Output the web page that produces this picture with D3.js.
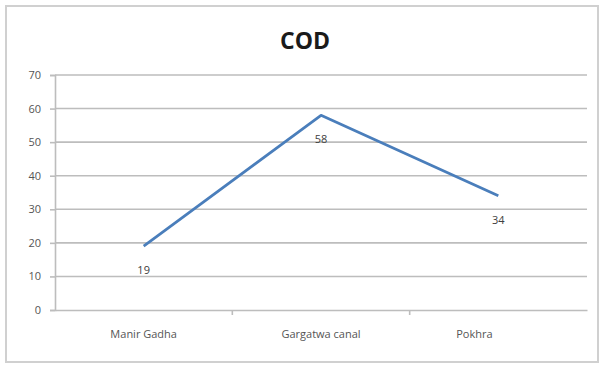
<!DOCTYPE html>
<html>
<head>
<meta charset="utf-8">
<script src="https://cdn.jsdelivr.net/npm/d3@7"></script>
<style>
  html, body { margin: 0; padding: 0; background: #fff; }
  svg { display: block; }
</style>
</head>
<body>
<svg id="chart" width="602" height="367"></svg>
<script>
// COD readings at each sampling site
const sites = ["Manir Gadha", "Gargatwa canal", "Pokhra"];
const codValues = [19, 58, 34];
const yTicks = [0, 10, 20, 30, 40, 50, 60, 70];
const chartTitle = "COD";

const svg = d3.select("#chart");
const W = 602, H = 367;
const plot = { left: 55, right: 587, top: 75, bottom: 310 };
const font = "Open Sans, 'Liberation Sans', Arial, sans-serif";

// outer chart frame
svg.append("rect")
  .attr("x", 6).attr("y", 6)
  .attr("width", W - 10).attr("height", H - 11)
  .attr("fill", "#fff")
  .attr("stroke", "#d0d0d0")
  .attr("stroke-width", 2);

const x = d3.scaleBand().domain(sites).range([plot.left, plot.right]);
const y = d3.scaleLinear().domain([0, 70]).range([plot.bottom, plot.top]);

// horizontal gridlines
svg.append("g").selectAll("line")
  .data(yTicks.filter(t => t > 0))
  .join("line")
  .attr("x1", plot.left).attr("x2", plot.right)
  .attr("y1", d => y(d)).attr("y2", d => y(d))
  .attr("stroke", "#bdbdbd").attr("stroke-width", 1.6);

// y axis
const yAxis = svg.append("g")
  .attr("transform", `translate(${plot.left},0)`)
  .call(d3.axisLeft(y).tickValues(yTicks).tickSize(5).tickPadding(9));
yAxis.select(".domain").attr("stroke", "#bdbdbd").attr("stroke-width", 1.6);
yAxis.selectAll(".tick line").attr("stroke", "#bdbdbd").attr("stroke-width", 1.6);
yAxis.selectAll("text")
  .attr("fill", "#555").style("font-family", font).style("font-size", "11px");

// x axis with category separators
const xAxis = svg.append("g")
  .attr("transform", `translate(0,${plot.bottom})`)
  .call(d3.axisBottom(x).tickSize(0).tickPadding(20));
xAxis.select(".domain").attr("stroke", "#bdbdbd").attr("stroke-width", 1.6);
xAxis.selectAll("text")
  .attr("fill", "#555").style("font-family", font).style("font-size", "11px")
  .attr("dx", (d, i) => i === sites.length - 1 ? -24 : 0);
svg.append("g").selectAll("line")
  .data(sites.slice(1))
  .join("line")
  .attr("x1", d => x(d)).attr("x2", d => x(d))
  .attr("y1", plot.bottom).attr("y2", plot.bottom + 5)
  .attr("stroke", "#bdbdbd").attr("stroke-width", 1.6);

// series line
const line = d3.line()
  .x((d, i) => x(sites[i]) + x.bandwidth() / 2)
  .y(d => y(d));
svg.append("path")
  .datum(codValues)
  .attr("d", line)
  .attr("fill", "none")
  .attr("stroke", "#4a7ebb")
  .attr("stroke-width", 2.75)
  .attr("stroke-linejoin", "round");

// value labels below each point
svg.append("g").selectAll("text")
  .data(codValues)
  .join("text")
  .attr("x", (d, i) => x(sites[i]) + x.bandwidth() / 2)
  .attr("y", d => y(d) + 28)
  .attr("text-anchor", "middle")
  .attr("fill", "#404040")
  .style("font-family", font).style("font-size", "11px")
  .text(d => d);

// title
svg.append("text")
  .attr("x", 305).attr("y", 49)
  .attr("text-anchor", "middle")
  .attr("fill", "#1a1a1a")
  .style("font-family", font).style("font-size", "23px").style("font-weight", "bold")
  .text(chartTitle);
</script>
</body>
</html>
